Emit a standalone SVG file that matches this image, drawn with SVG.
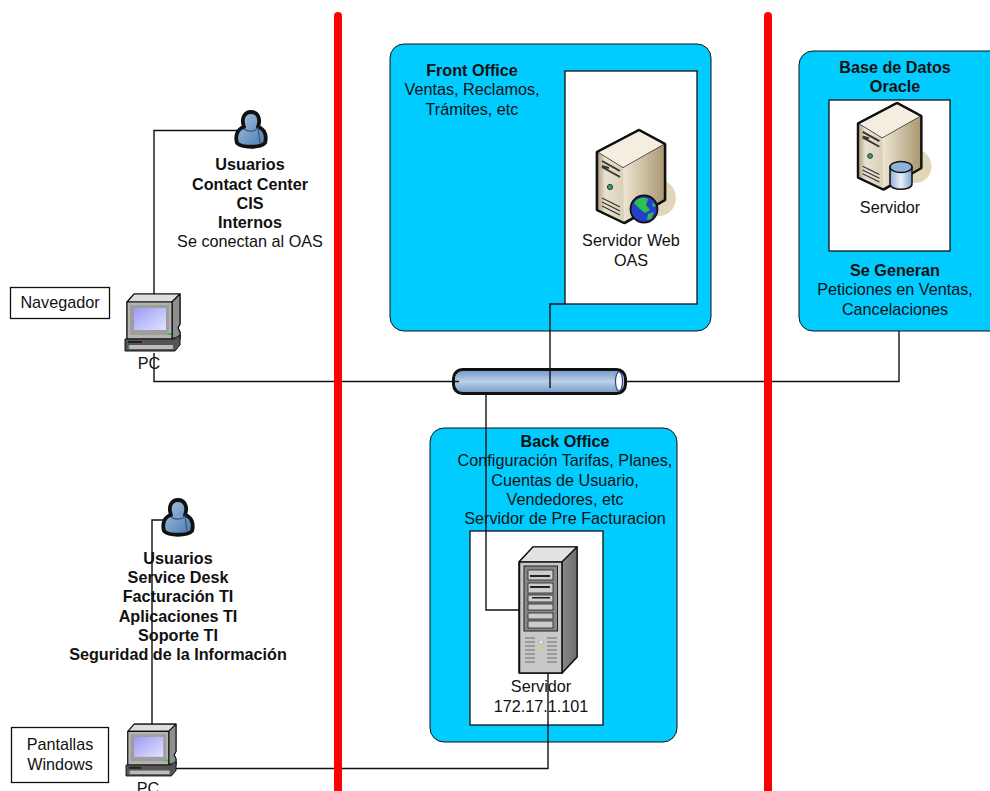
<svg xmlns="http://www.w3.org/2000/svg" width="990" height="791" viewBox="0 0 990 791">
<style>
text{font-family:"Liberation Sans",Arial,sans-serif;font-size:16.2px;fill:#111;text-anchor:middle}
.b{font-weight:bold}
.panel{fill:#00ccff;stroke:#111;stroke-width:1}
.white{fill:#fff;stroke:#111;stroke-width:1.3}
.conn{fill:none;stroke:#111;stroke-width:1.4}
.red{stroke:#ff0000;stroke-width:8;stroke-linecap:round}
.o{stroke:#111;stroke-linejoin:round}
</style>
<defs>
<linearGradient id="pipeG" x1="0" y1="0" x2="0" y2="1"><stop offset="0" stop-color="#6f98c8"/><stop offset=".5" stop-color="#bccfe6"/><stop offset="1" stop-color="#6f98c8"/></linearGradient>
<linearGradient id="userG" x1="0" y1="0" x2="1" y2="1"><stop offset="0" stop-color="#a9c6e2"/><stop offset="1" stop-color="#4a78ad"/></linearGradient>
<linearGradient id="screenG" x1="0" y1="0" x2="1" y2="1"><stop offset="0" stop-color="#9c9cf4"/><stop offset="1" stop-color="#e2e2ff"/></linearGradient>
<linearGradient id="frontG" x1="0" y1="0" x2="1" y2="0"><stop offset="0" stop-color="#a89a7c"/><stop offset=".3" stop-color="#e8e1cf"/><stop offset="1" stop-color="#d9d0b8"/></linearGradient>
<linearGradient id="sideG" x1="0" y1="0" x2="1" y2="0"><stop offset="0" stop-color="#eee6d4"/><stop offset="1" stop-color="#a99670"/></linearGradient>
<linearGradient id="cylG" x1="0" y1="0" x2="1" y2="0"><stop offset="0" stop-color="#8fb2d6"/><stop offset=".5" stop-color="#e8f0f8"/><stop offset="1" stop-color="#7fa3c9"/></linearGradient>
<linearGradient id="rackG" x1="0" y1="0" x2="1" y2="0"><stop offset="0" stop-color="#8a8a8a"/><stop offset="1" stop-color="#6d6d6d"/></linearGradient>
<symbol id="pc" viewBox="0 0 55 58" overflow="visible">
<path d="M2 8 L9 0 H55 V30 L53 34 L55 38 V46 L50 51 H2Z" fill="#9a9a9a" class="o" stroke-width="1"/>
<path d="M2 8 L9 0 H55 L47 8Z" fill="#dedede" class="o" stroke-width="1.200"/>
<path d="M47 8 L55 0 V30 L53 34 L55 38 V44 L47 44Z" fill="#8e8e8e" class="o" stroke-width="1.200"/>
<rect x="2" y="8" width="45" height="37" fill="#b4b4b4" class="o" stroke-width="1.200"/>
<rect x="5" y="11" width="39" height="30" fill="#9e9e9e"/>
<rect x="9" y="14" width="32" height="22" fill="url(#screenG)"/>
<rect x="43" y="39" width="3" height="2" fill="#22cc44"/>
<path d="M0 45 H49 L55 41 V51 L50 57 H0Z" fill="#555" class="o" stroke-width="1"/>
<rect x="4" y="51" width="44" height="4" fill="#bcbcbc"/>
<rect x="3" y="47" width="14" height="2" fill="#222"/>
<rect x="3" y="52" width="2" height="1.500" fill="#22cc44"/>
</symbol>
<symbol id="user" viewBox="0 0 32 40" overflow="visible">
<path d="M2 33 C0 26 2 19 9 17 C6 9 9 2 16 2 C23 2 26 9 23 17 C30 19 32 26 30 33 C25 38 7 38 2 33Z" fill="url(#userG)" stroke="#111" stroke-width="3.800" stroke-linejoin="round"/>
<path d="M9 19 C13 22 20 22 23 18 L25 33" fill="none" stroke="#33558a" stroke-width="1.200"/>
</symbol>
<g id="tower">
<ellipse cx="62" cy="68" rx="17" ry="18" fill="#dfd2b0" opacity=".9"/>
<path d="M0 22 L42 0 L68 14 V70 L28 93 L0 80Z" fill="#ddd" class="o" stroke-width="2.400"/>
<path d="M0 22 L42 0 L68 14 L26 38Z" fill="#f3eee0" class="o" stroke-width="1.200"/>
<path d="M26 38 L68 14 V70 L27 93Z" fill="url(#sideG)"/>
<path d="M0 22 L26 38 L27 93 L0 80Z" fill="url(#frontG)"/>
<path d="M0 22 L42 0 L68 14 V70 L27 93 L0 80Z" fill="none" class="o" stroke-width="2.400"/>
<path d="M5 31 L23 41 M5 37 L23 47 M5 36 L12 38" fill="none" stroke="#333" stroke-width="2"/>
<circle cx="13" cy="57" r="2.600" fill="#3a9a80" stroke="#333" stroke-width="1"/>
<path d="M5 68 L23 77 M5 72 L23 81 M5 76 L23 85" fill="none" stroke="#333" stroke-width="1.200"/>
</g>
</defs>

<g id="panels">
<rect id="front-office-panel" class="panel" x="390" y="44" width="321" height="287" rx="14"/>
<rect id="base-datos-panel" class="panel" x="799" y="51" width="210" height="280" rx="14"/>
<rect id="back-office-panel" class="panel" x="430" y="428" width="247" height="314" rx="14"/>
<rect class="white" x="565" y="71" width="132" height="233"/>
<rect class="white" x="829" y="100" width="121" height="151"/>
<rect class="white" x="470" y="531" width="133" height="194"/>
</g>

<g id="dividers">
<line class="red" x1="338" y1="16" x2="338" y2="800"/>
<line class="red" x1="768" y1="16" x2="768" y2="800"/>
</g>

<g id="pipe">
<rect x="453.500" y="369.500" width="172" height="24" rx="9" fill="url(#pipeG)" stroke="#111" stroke-width="3"/>
<ellipse cx="619" cy="381.500" rx="3.500" ry="9.500" fill="#fff" stroke="#3a3a8a" stroke-width="1.200"/>
</g>

<g id="connectors">
<path class="conn" d="M250 130.500 H154 V298"/>
<path class="conn" d="M154 353 V381.500 H334"/>
<path class="conn" d="M342 381.500 H459"/>
<path class="conn" d="M565 304 H550 V388"/>
<path class="conn" d="M626 381.500 H764"/>
<path class="conn" d="M772 381.500 H899 V331"/>
<path class="conn" d="M486 394 V610 H520"/>
<path class="conn" d="M178 520 H152 V727"/>
<path class="conn" d="M548 672 V768.500 H342"/>
<path class="conn" d="M334 768.500 H176"/>
</g>

<g id="user-contact">
<use href="#user" x="235" y="110" width="32" height="40"/>
<text class="b" x="250" y="170">Usuarios</text>
<text class="b" x="250" y="190">Contact Center</text>
<text class="b" x="250" y="209">CIS</text>
<text class="b" x="250" y="228">Internos</text>
<text x="250" y="247">Se conectan al OAS</text>
</g>

<g id="user-service">
<use href="#user" x="162" y="498" width="32" height="40"/>
<text class="b" x="178" y="564">Usuarios</text>
<text class="b" x="178" y="583">Service Desk</text>
<text class="b" x="178" y="602">Facturación TI</text>
<text class="b" x="178" y="622">Aplicaciones TI</text>
<text class="b" x="178" y="641">Soporte TI</text>
<text class="b" x="178" y="660">Seguridad de la Información</text>
</g>

<g id="navegador">
<rect x="10.500" y="287.500" width="99" height="31" fill="#fff" stroke="#111" stroke-width="1.300"/>
<text x="60" y="308">Navegador</text>
</g>

<g id="pantallas">
<rect x="11.500" y="727.500" width="97" height="55" fill="#fff" stroke="#111" stroke-width="1.300"/>
<text x="60" y="750">Pantallas</text>
<text x="60" y="770">Windows</text>
</g>

<g id="pc-1">
<use href="#pc" x="125" y="294" width="55" height="58"/>
<text x="149" y="369">PC</text>
</g>

<g id="pc-2">
<use href="#pc" x="126" y="724" width="50" height="53"/>
<text x="148" y="794">PC</text>
</g>

<g id="front-office">
<text class="b" x="472" y="76">Front Office</text>
<text x="472" y="95">Ventas, Reclamos,</text>
<text x="472" y="115">Trámites, etc</text>
</g>

<g id="servidor-web">
<use href="#tower" transform="translate(597,130)"/>
<circle cx="644" cy="209" r="13.500" fill="#2440c8" stroke="#111" stroke-width="1.800"/>
<path d="M634 203 C638 197 644 197 648 199 L646 205 L650 210 L645 213 L640 209Z M648 214 L654 212 L651 219 L647 220Z M652 202 L656 206 L653 207Z" fill="#2fc24a"/>
<text x="631" y="246">Servidor Web</text>
<text x="631" y="266">OAS</text>
</g>

<g id="base-datos">
<text class="b" x="895" y="73">Base de Datos</text>
<text class="b" x="895" y="92">Oracle</text>
<use href="#tower" transform="translate(858,103) scale(.93)"/>
<path d="M890 167 V184 C890 191 912 191 912 184 V167Z" fill="url(#cylG)" stroke="#111" stroke-width="1.500"/>
<ellipse cx="901" cy="167" rx="11" ry="5.500" fill="#8fb4d8" stroke="#111" stroke-width="1.500"/>
<text x="890" y="213">Servidor</text>
<text class="b" x="895" y="276">Se Generan</text>
<text x="895" y="295">Peticiones en Ventas,</text>
<text x="895" y="315">Cancelaciones</text>
</g>

<g id="back-office">
<text class="b" x="565" y="447">Back Office</text>
<text x="565" y="466">Configuración Tarifas, Planes,</text>
<text x="565" y="486">Cuentas de Usuario,</text>
<text x="565" y="505">Vendedores, etc</text>
<text x="565" y="524">Servidor de Pre Facturacion</text>
</g>

<g id="servidor-rack">
<path d="M519 562 L533 547 H577 V657 L562 673 H519Z" fill="#9a9a9a" class="o" stroke-width="1.500"/>
<path d="M519 562 L533 547 H577 L562 562Z" fill="#e2e2e2" class="o" stroke-width="1.200"/>
<path d="M562 562 L577 547 V657 L562 673Z" fill="url(#rackG)" class="o" stroke-width="1.200"/>
<rect x="519.500" y="562" width="42.500" height="111" fill="#c8c8c8" class="o" stroke-width="1.500"/>
<rect x="524" y="566" width="33.500" height="65" fill="#888" stroke="#222" stroke-width="1"/>
<rect x="528" y="570" width="25" height="10" fill="#ccc" stroke="#222" stroke-width=".8"/>
<rect x="530" y="575" width="20" height="2" fill="#222"/>
<rect x="528" y="583" width="25" height="10" fill="#ccc" stroke="#222" stroke-width=".8"/>
<rect x="530" y="586" width="20" height="2" fill="#222"/>
<rect x="528" y="595" width="25" height="7" fill="#ccc" stroke="#222" stroke-width=".8"/>
<rect x="532" y="597" width="18" height="1.500" fill="#222"/>
<rect x="528" y="604" width="25" height="6" fill="#ccc" stroke="#222" stroke-width=".8"/>
<rect x="528" y="613" width="25" height="6" fill="#ccc" stroke="#222" stroke-width=".8"/>
<rect x="528" y="621" width="25" height="7" fill="#ccc" stroke="#222" stroke-width=".8"/>
<path d="M525 638 H535 M525 642 H535 M525 646 H535 M525 650 H535 M525 654 H535 M525 658 H535 M525 662 H535 M547 638 H557 M547 642 H557 M547 646 H557 M547 650 H557 M547 654 H557 M547 658 H557 M547 662 H557" stroke="#8a8a8a" stroke-width="1.500"/>
<circle cx="541" cy="642" r="2.200" fill="#e8e8e8" stroke="#999" stroke-width=".6"/>
<circle cx="541" cy="650" r="1.500" fill="#ccdd33"/>
<text x="541" y="692">Servidor</text>
<text x="541" y="712">172.17.1.101</text>
</g>
</svg>
